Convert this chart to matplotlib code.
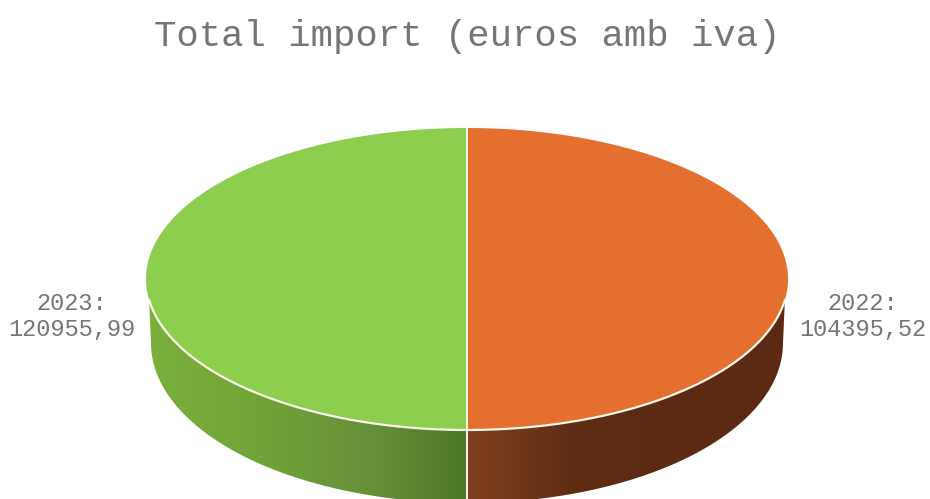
import numpy as np
import matplotlib
matplotlib.use("Agg")
import matplotlib.pyplot as plt
from matplotlib.colors import LinearSegmentedColormap
from matplotlib.patches import Polygon

# =====================================================
# DATA
# =====================================================

years = ["2022", "2023"]
amounts = ["104395,52", "120955,99"]
# the picture splits the pie half and half, whatever the amounts say
shares = [50, 50]

title = "Total import (euros amb iva)"

top_colors = ["#e56f2e", "#8dce4f"]
side_colors = [
    ["#80401f", "#5f2c14", "#5c2a13", "#5c2a13"],
    ["#7bb03c", "#72a338", "#68923a", "#4d7828"],
]

# =====================================================
# LAYOUT (pixels)
# =====================================================

W, H = 930, 499
CX, CY = 467, 279
RX, RY = 321, 151
BOTTOM_RX, BOTTOM_RY = 316, 160
BOTTOM_CY = 343
# the wall only shows a little below the widest point of the top
FRONT_MARGIN = 8

GREY = "#757575"
EDGE = "#fbf7ea"
MONO = "Liberation Mono"


def rim(t, rx=RX, ry=RY, cy=CY):
    # t in degrees, clockwise from 12 o'clock
    t = np.radians(t)
    return np.column_stack([CX + rx * np.sin(t), cy - ry * np.cos(t)])


fig = plt.figure(figsize=(W / 100, H / 100), dpi=100)
ax = fig.add_axes([0, 0, 1, 1])
ax.set_xlim(0, W)
ax.set_ylim(H, 0)
ax.axis("off")

edges = np.cumsum([0] + shares) / sum(shares) * 360
front0, front1 = 90 + FRONT_MARGIN, 270 - FRONT_MARGIN

# side walls first
for i in range(len(shares)):
    t0 = max(edges[i], front0)
    t1 = min(edges[i + 1], front1)
    if t1 <= t0:
        continue
    t = np.linspace(t0, t1, 120)
    b = np.linspace(t1 if t1 < 180 else 270, t0 if t0 > 180 else 90, 120)
    if t1 <= 180:
        b = np.linspace(t1, 90, 120)
    else:
        b = np.linspace(270, t0, 120)
    outline = np.vstack([rim(t), rim(b, BOTTOM_RX, BOTTOM_RY, BOTTOM_CY)])
    wall = Polygon(outline, closed=True, facecolor="none", edgecolor="none")
    ax.add_patch(wall)

    cmap = LinearSegmentedColormap.from_list("side", side_colors[i])
    grad = np.linspace(0, 1, 256).reshape(1, -1)
    extent = [outline[:, 0].min(), outline[:, 0].max(),
              outline[:, 1].max(), outline[:, 1].min()]
    img = ax.imshow(grad, cmap=cmap, aspect="auto", extent=extent, zorder=1)
    img.set_clip_path(wall)

# top of the pie
for i in range(len(shares)):
    t = np.linspace(edges[i], edges[i + 1], 200)
    pts = np.vstack([[CX, CY], rim(t)])
    ax.add_patch(Polygon(pts, closed=True, facecolor=top_colors[i],
                         edgecolor="none", zorder=2))

# white lines between slices and along the front rim
t = np.linspace(front0, front1, 300)
ax.plot(*rim(t).T, color=EDGE, lw=1.6, zorder=3)
for e in edges[:-1]:
    p = rim(np.array([e]))[0]
    q = rim(np.array([e]), BOTTOM_RX, BOTTOM_RY, BOTTOM_CY)[0]
    ax.plot([CX, p[0]], [CY, p[1]], color=EDGE, lw=1.4, zorder=3)
    if 90 <= e % 360 <= 270:
        ax.plot([p[0], q[0]], [p[1], q[1]], color=EDGE, lw=1.4, zorder=3)

# labels
ax.text(467, 36, title, family=MONO, fontsize=26.8, color=GREY,
        ha="center", va="center")
label_x = [863, 72]
for x, year, amount in zip(label_x, years, amounts):
    ax.text(x, 303, year + ":", family=MONO, fontsize=17, color=GREY,
            ha="center", va="center")
    ax.text(x, 329, amount, family=MONO, fontsize=17, color=GREY,
            ha="center", va="center")

fig.savefig("out.png", dpi=100)
